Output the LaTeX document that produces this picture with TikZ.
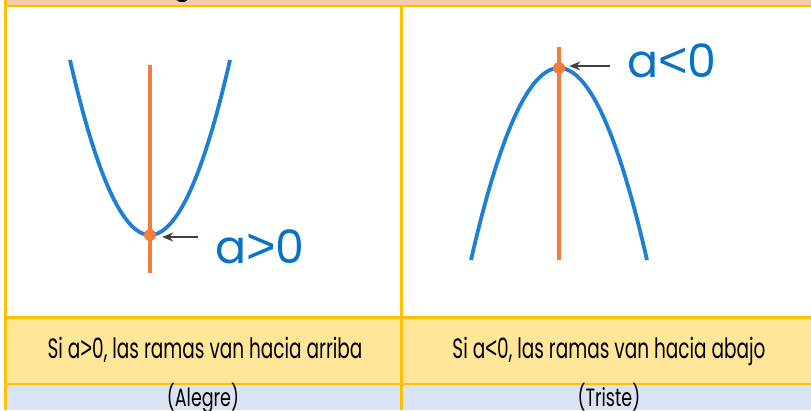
\documentclass[tikz,border=0pt]{standalone}
\usepackage{fontspec}
\usepackage{graphicx}
\setmainfont{Poppins}
\newfontfamily\relfont{Liberation Sans}
\usetikzlibrary{arrows.meta}
\definecolor{peach}{HTML}{F8CBAD}
\definecolor{gridline}{HTML}{FFC000}
\definecolor{rowyellow}{HTML}{FFE699}
\definecolor{rowblue}{HTML}{DAE3F3}
\definecolor{curveblue}{HTML}{1D80D4}
\definecolor{axisorange}{HTML}{F47C3C}
\definecolor{labelblue}{HTML}{0A72C6}
\definecolor{arrowgray}{HTML}{404040}
\newcommand{\bgt}{{\relfont\scalebox{1.1}{>}}}
\newcommand{\blt}{{\relfont\scalebox{1.1}{<}}}
\begin{document}
\begin{tikzpicture}[x=1pt,y=-1pt,
  curve/.style={curveblue,line width=3.8pt},
  axisline/.style={axisorange,line width=3.4pt},
  vdot/.style={circle,fill=axisorange,inner sep=0pt,minimum size=12pt},
  pointer/.style={arrowgray,line width=1.5pt,-{Stealth[length=11pt,width=9pt,inset=3.5pt]}},
  alabel/.style={labelblue,inner sep=0pt,font=\fontsize{46}{50}\selectfont},
  rowtext/.style={inner sep=0pt,font=\fontsize{28}{30}\selectfont},
  subtext/.style={inner sep=0pt,font=\fontsize{25}{27}\selectfont},
  gridrule/.style={gridline,line width=2.7pt}]
\useasboundingbox (0,0) rectangle (811,410);
\clip (0,0) rectangle (811,410);
% backgrounds
\fill[peach] (5,0) rectangle (811,6);
\fill[rowyellow] (5,317) rectangle (811,384);
\fill[rowblue] (5,384) rectangle (811,410);
\fill[black] (182,-1) ellipse [x radius=6pt, y radius=3pt];
% grid
\draw[gridrule] (5.3,0) -- (5.3,410);
\draw[gridrule] (401.3,6) -- (401.3,410);
\draw[gridrule] (4,6) -- (811,6);
\draw[gridrule] (4,317.3) -- (811,317.3);
\draw[gridrule] (4,384) -- (811,384);
% left parabola
\draw[axisline] (150,65) -- (150,273);
\draw[curve] plot[domain=-80:80,samples=80,smooth] ({150+\x},{235-175*(\x/80)^2});
\node[vdot] (v1) at (150,235) {};
\node[alabel] (l1) at (260,247) {a\bgt0};
\coordinate (p1) at (198,237);
\draw[pointer] (p1) -- ([xshift=6pt]v1.east |- p1);
% right parabola
\draw[axisline] (559,47) -- (559,260);
\draw[curve] plot[domain=-88:88,samples=80,smooth] ({559+\x},{68+192*(\x/88)^2});
\node[vdot] (v2) at (559,68) {};
\node[alabel] (l2) at (672,61) {a\blt0};
\coordinate (p2) at (610,66);
\draw[pointer] (p2) -- ([xshift=4pt]v2.east |- p2);
% row texts
\node[rowtext,anchor=base] (t1) at (205,358) {\scalebox{0.66}[1]{Si a\bgt0, las ramas van hacia arriba}};
\node[rowtext,anchor=base] (t2) at (609,358) {\scalebox{0.66}[1]{Si a\blt0, las ramas van hacia abajo}};
\node[subtext,anchor=base] (b1) at (203,406) {\scalebox{0.7}[1]{(Alegre)}};
\node[subtext,anchor=base] (b2) at (609,406) {\scalebox{0.7}[1]{(Triste)}};
\end{tikzpicture}
\end{document}
